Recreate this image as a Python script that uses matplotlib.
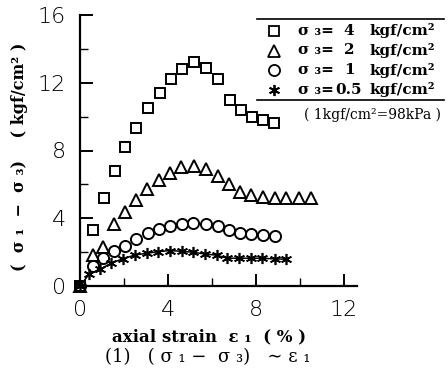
import matplotlib
matplotlib.use("Agg")
import matplotlib.pyplot as plt
from matplotlib.lines import Line2D
from matplotlib.ticker import MultipleLocator

# data (axial strain %, deviator stress kgf/cm2)
sq_x = [0, 0.58, 1.09, 1.58, 2.05, 2.53, 3.09, 3.62, 4.15, 4.64, 5.2, 5.73, 6.29, 6.82, 7.33, 7.83, 8.33, 8.82]
sq_y = [0, 3.3, 5.2, 6.8, 8.2, 9.3, 10.5, 11.4, 12.2, 12.8, 13.2, 12.9, 12.2, 11.0, 10.4, 10.0, 9.8, 9.6]

tr_x = [0, 0.58, 1.06, 1.56, 2.05, 2.53, 3.03, 3.6, 4.1, 4.59, 5.17, 5.71, 6.26, 6.77, 7.27, 7.8, 8.33, 8.85, 9.39, 9.95, 10.5]
tr_y = [0, 1.83, 2.3, 3.67, 4.36, 5.1, 5.74, 6.27, 6.67, 7.0, 7.06, 6.9, 6.47, 6.0, 5.54, 5.38, 5.28, 5.22, 5.22, 5.22, 5.19]

ci_x = [0, 0.58, 1.06, 1.56, 2.05, 2.53, 3.09, 3.6, 4.1, 4.62, 5.15, 5.71, 6.26, 6.77, 7.27, 7.8, 8.33, 8.85]
ci_y = [0, 1.18, 1.67, 2.09, 2.38, 2.78, 3.12, 3.35, 3.55, 3.67, 3.71, 3.65, 3.55, 3.31, 3.15, 3.08, 3.02, 2.98]

st_x = [0, 0.42, 0.91, 1.41, 1.97, 2.5, 3.03, 3.56, 4.09, 4.62, 5.15, 5.68, 6.21, 6.7, 7.23, 7.76, 8.29, 8.85, 9.39]
st_y = [0, 0.71, 0.99, 1.34, 1.62, 1.83, 1.93, 2.03, 2.09, 2.05, 1.99, 1.89, 1.82, 1.64, 1.64, 1.64, 1.64, 1.6, 1.58]

legend_vals = ["4", "2", "1", "0.5"]
x_ticks = [0, 4, 8, 12]
y_ticks = [0, 4, 8, 12, 16]

W, H = 448, 371
fig = plt.figure(figsize=(W / 100, H / 100), dpi=100)
ax = fig.add_axes([80 / W, 1 - 286 / H, (357 - 80) / W, (286 - 15) / H])

mk = dict(color="black", markerfacecolor="none", markeredgecolor="black",
          markeredgewidth=1.4, linestyle="none", clip_on=False)
ax.plot(sq_x, sq_y, marker="s", markersize=7, **mk)
ax.plot(tr_x, tr_y, marker="^", markersize=8, **mk)
ax.plot(ci_x, ci_y, marker="o", markersize=8, **mk)
ax.plot(st_x, st_y, color="black", linewidth=1.1, marker=(6, 2, 0), markersize=8,
        markeredgewidth=1.2, clip_on=False)

ax.set_xlim(0, 12.6)
ax.set_ylim(0, 16)
for s in ["top", "right"]:
    ax.spines[s].set_visible(False)
for s in ["left", "bottom"]:
    ax.spines[s].set_linewidth(1.6)

ax.set_xticks(x_ticks)
ax.set_yticks(y_ticks)
ax.xaxis.set_minor_locator(MultipleLocator(2))
ax.yaxis.set_minor_locator(MultipleLocator(2))
ax.tick_params(axis="both", which="major", direction="in", length=9, width=1.4,
               labelsize=16, pad=10)
ax.tick_params(axis="both", which="minor", direction="in", length=6, width=1.0)
for lab in ax.get_xticklabels() + ax.get_yticklabels():
    lab.set_family("DejaVu Sans")
    lab.set_fontweight("light")

serif = ["DejaVu Serif", "Noto Sans CJK JP"]

# y label
fig.text(20 / W, 1 - 157 / H, "(  σ ₁  −  σ ₃)    ( kgf/cm² )", rotation=90,
         ha="center", va="center", family=serif, fontsize=11.5, fontweight="bold")
# x label and caption
fig.text(209 / W, 1 - 337 / H, "axial strain  ε ₁  ( % )", ha="center", va="center",
         family=serif, fontsize=12, fontweight="bold")
fig.text(208 / W, 1 - 357 / H, "(1)   ( σ ₁ −  σ ₃)   ∼ ε ₁", ha="center", va="center",
         family=serif, fontsize=13)

# legend
fig.add_artist(Line2D([257 / W, 444 / W], [1 - 18.5 / H] * 2, color="black", linewidth=1.2))
fig.add_artist(Line2D([257 / W, 444 / W], [1 - 99.5 / H] * 2, color="black", linewidth=1.2))
rows_y = [30.7, 50.5, 70, 89.5]
mks = [("s", 7), ("^", 8), ("o", 8), ((6, 2, 0), 8)]
for (m, ms), ry, v in zip(mks, rows_y, legend_vals):
    fig.add_artist(Line2D([274 / W], [1 - ry / H], marker=m, markersize=ms,
                          markerfacecolor="none", markeredgecolor="black",
                          markeredgewidth=1.3, linestyle="none"))
    fig.text(298 / W, 1 - ry / H, "σ ₃=", ha="left", va="center", family=serif,
             fontsize=11, fontweight="bold")
    fig.text(349 / W, 1 - ry / H, v, ha="center", va="center", family=serif,
             fontsize=11, fontweight="bold")
    fig.text(369 / W, 1 - ry / H, "kgf/cm²", ha="left", va="center", family=serif,
             fontsize=11, fontweight="bold")
fig.text(372 / W, 1 - 115 / H, "( 1kgf/cm²=98kPa )", ha="center", va="center",
         family=serif, fontsize=10)

fig.savefig("out.png", dpi=100)
